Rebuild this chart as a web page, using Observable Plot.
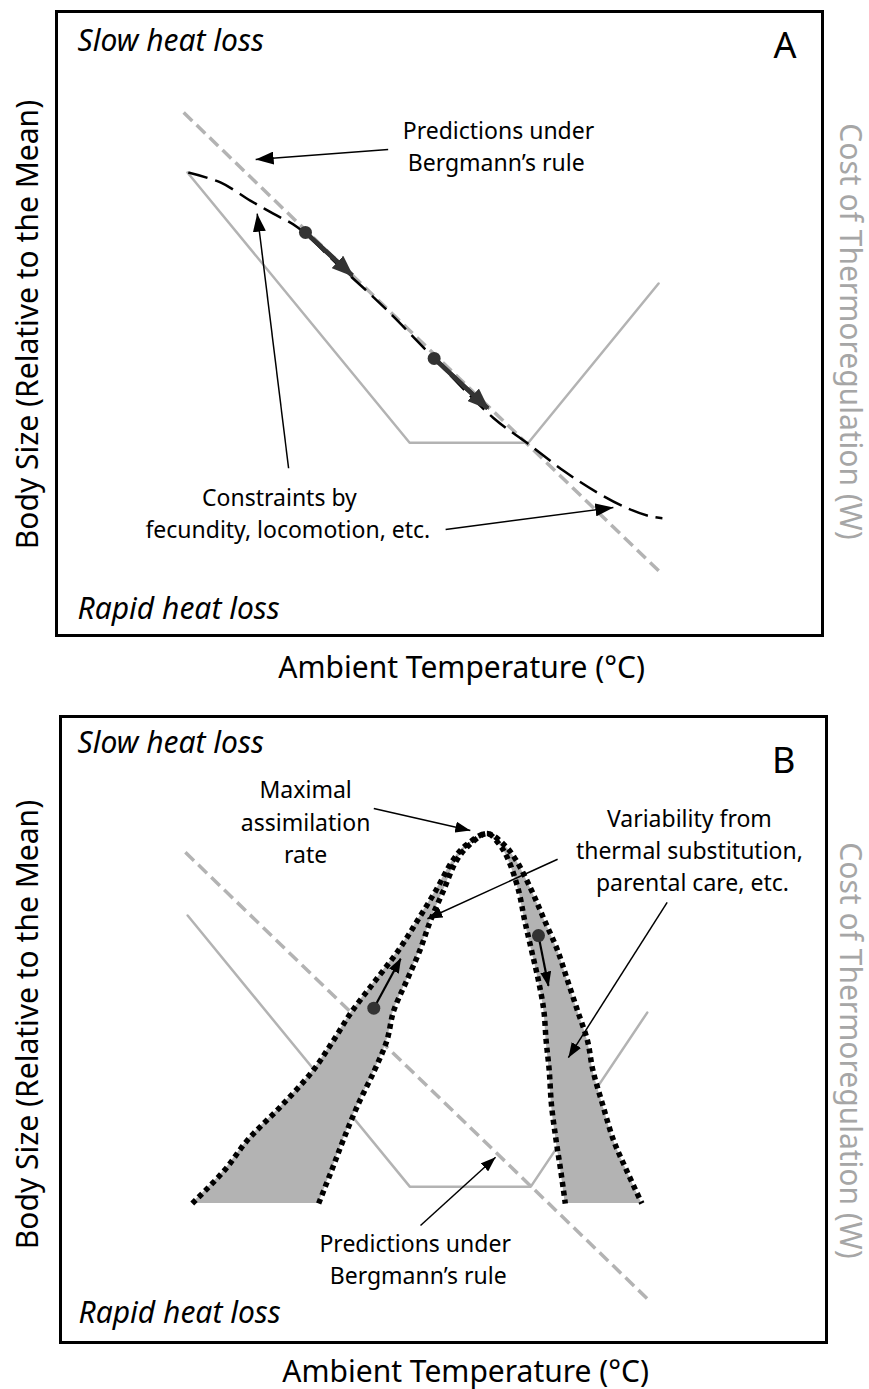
<!DOCTYPE html>
<html>
<head>
<meta charset="utf-8">
<script src="https://cdn.jsdelivr.net/npm/d3@7"></script>
<script src="https://cdn.jsdelivr.net/npm/@observablehq/plot@0.6"></script>
<style>
  body { margin: 0; background: #fff; }
  #chart svg { display: block; }
</style>
</head>
<body>
<div id="chart"></div>
<script>
// ---------- Panel A (temperature and body size in relative units 0–100 across the frame) ----------
const aBergmannTemp = [16.6, 79.1];
const aBergmannSize = [83.8, 9.8];
const aCostTemp = [17.1, 46.1, 61.6, 78.6];
const aCostValue = [74.2, 30.9, 30.9, 56.4];
const aCurveTemp = [17.2, 21.4, 25.3, 28.3, 31.5, 36.4, 41.4, 44.0, 49.3, 57.0, 61.5, 66.2, 70.6, 74.5, 77.5, 79.1];
const aCurveSize = [74.2, 72.6, 69.7, 67.6, 65.4, 59.8, 54.2, 51.1, 44.4, 34.9, 30.8, 26.4, 22.9, 20.4, 19.1, 18.8];
const aMoveFromTemp = [32.5, 49.3];
const aMoveFromSize = [64.6, 44.4];
const aMoveToTemp = [38.6, 56.3];
const aMoveToSize = [57.7, 36.4];
const aNoteFromTemp = [43.3, 30.3, 50.8];
const aNoteFromSize = [77.9, 26.8, 17.0];
const aNoteToTemp = [26.0, 26.2, 72.7];
const aNoteToSize = [76.3, 67.6, 20.5];
const aNoteText = ["Predictions under", "Bergmann’s rule", "Constraints by", "fecundity, locomotion, etc."];
const aNoteTextTemp = [57.7, 57.4, 29.1, 30.2];
const aNoteTextSize = [79.6, 74.5, 20.8, 15.7];

// ---------- Panel B ----------
const bBergmannTemp = [16.3, 76.6];
const bBergmannSize = [78.3, 7.0];
const bCostTemp = [16.6, 45.6, 61.4, 76.6];
const bCostValue = [68.2, 24.9, 24.9, 52.7];
const bBandSize = [22.2, 27.5, 32.3, 37.9, 43.5, 48.2, 53.0, 57.8, 62.6, 67.4, 72.2, 77.0, 79.4, 81.3];
const bOuterLeft = [17.2, 21.4, 24.4, 28.9, 33.0, 35.6, 38.1, 41.1, 44.1, 46.6, 49.0, 51.2, 52.9, 55.7];
const bInnerLeft = [33.7, 35.4, 36.9, 38.8, 41.0, 42.6, 43.5, 45.2, 46.9, 48.3, 50.0, 51.7, 53.3, 55.7];
const bInnerRight = [65.9, 65.3, 64.7, 64.1, 63.8, 63.4, 63.1, 62.4, 61.5, 60.6, 59.8, 58.5, 57.4, 55.7];
const bOuterRight = [75.9, 73.9, 72.2, 70.8, 69.5, 68.8, 67.5, 66.2, 64.9, 63.2, 61.5, 59.5, 58.0, 55.7];
const bMoveFromTemp = [40.9, 62.4];
const bMoveFromSize = [53.4, 65.0];
const bMoveToTemp = [44.4, 63.7];
const bMoveToSize = [61.3, 57.0];
const bNoteFromTemp = [40.9, 64.9, 79.2, 47.0];
const bNoteFromSize = [85.3, 77.2, 70.3, 18.7];
const bNoteToTemp = [53.5, 47.9, 66.3, 56.8];
const bNoteToSize = [81.8, 67.7, 45.5, 29.6];
const bNoteText = ["Maximal", "assimilation", "rate", "Variability from", "thermal substitution,", "parental care, etc.", "Predictions under", "Bergmann’s rule"];
const bNoteTextTemp = [32.0, 32.0, 32.0, 82.1, 82.1, 82.5, 46.3, 46.7];
const bNoteTextSize = [87.0, 81.7, 76.6, 82.3, 77.3, 72.1, 14.4, 9.4];

// ---------- shared labels ----------
const xLabel = "Ambient Temperature (°C)";
const yLabel = "Body Size (Relative to the Mean)";
const y2Label = "Cost of Thermoregulation (W)";
const topLabel = "Slow heat loss";
const bottomLabel = "Rapid heat loss";

// ---------- helpers ----------
const pts = (xs, ys) => xs.map((x, i) => ({x, y: ys[i]}));
const segs = (x1s, y1s, x2s, y2s) => x1s.map((x1, i) => ({x1, y1: y1s[i], x2: x2s[i], y2: y2s[i]}));
const shafts = (x1s, y1s, x2s, y2s) => x1s.flatMap((x1, i) => [{k: i, x: x1, y: y1s[i]}, {k: i, x: x2s[i], y: y2s[i]}]);
const labels = (texts, xs, ys) => texts.map((text, i) => ({text, x: xs[i], y: ys[i]}));

const FONT = "'Noto Sans', 'Open Sans', sans-serif";
const GREY = "#b3b3b3";
const AXISGREY = "#a6a6a6";

function addArrowheads(svg, specs) {
  const ns = "http://www.w3.org/2000/svg";
  const defs = document.createElementNS(ns, "defs");
  svg.insertBefore(defs, svg.firstChild);
  const groups = svg.querySelectorAll('g[aria-label="link"]');
  specs.forEach((s, k) => {
    const m = document.createElementNS(ns, "marker");
    m.setAttribute("id", s.id);
    m.setAttribute("viewBox", `0 0 ${s.len} ${s.wid}`);
    m.setAttribute("refX", s.len - (s.back || 0));
    m.setAttribute("refY", s.wid / 2);
    m.setAttribute("markerWidth", s.len);
    m.setAttribute("markerHeight", s.wid);
    m.setAttribute("markerUnits", "userSpaceOnUse");
    m.setAttribute("orient", "auto");
    const p = document.createElementNS(ns, "path");
    p.setAttribute("d", `M0,0L${s.len},${s.wid / 2}L0,${s.wid}Z`);
    p.setAttribute("fill", s.color);
    m.appendChild(p);
    defs.appendChild(m);
    const g = groups[k];
    if (g) g.querySelectorAll("path").forEach(el => el.setAttribute("marker-end", `url(#${s.id})`));
  });
}

function panel({height, margins, marks}) {
  return Plot.plot({
    width: 869,
    height,
    ...margins,
    x: {domain: [0, 100], axis: null},
    y: {domain: [0, 100], axis: null},
    style: {fontFamily: FONT, background: "white", overflow: "visible", color: "black"},
    marks
  });
}

function frameLabels(o) {
  return [
    Plot.text([topLabel], {text: d => d, frameAnchor: "top-left", dx: o.topDx, dy: o.topDy, lineAnchor: "bottom", textAnchor: "start", fontSize: 30, fontStyle: "italic", fill: "black"}),
    Plot.text([bottomLabel], {text: d => d, frameAnchor: "bottom-left", dx: o.botDx, dy: o.botDy, lineAnchor: "bottom", textAnchor: "start", fontSize: 30, fontStyle: "italic", fill: "black"}),
    Plot.text([o.letter], {text: d => d, frameAnchor: "top-right", dx: o.letDx, dy: o.letDy, lineAnchor: "bottom", textAnchor: "end", fontSize: 36, fill: "black"}),
    Plot.text([yLabel], {text: d => d, frameAnchor: "left", rotate: -90, dx: o.yDx, dy: o.yDy, lineAnchor: "bottom", textAnchor: "middle", fontSize: 30, fill: "black"}),
    Plot.text([y2Label], {text: d => d, frameAnchor: "right", rotate: 90, dx: o.y2Dx, dy: o.y2Dy, lineAnchor: "bottom", textAnchor: "middle", fontSize: 30, fill: AXISGREY}),
    Plot.text([xLabel], {x: () => o.xLabelTemp, text: d => d, frameAnchor: "bottom", dy: o.xDy, lineAnchor: "bottom", textAnchor: "middle", fontSize: 30, fill: "black"})
  ];
}

// ---------- Panel A ----------
const plotA = panel({
  height: 695,
  margins: {marginLeft: 56, marginRight: 47, marginTop: 11, marginBottom: 60},
  marks: [
    Plot.line(pts(aBergmannTemp, aBergmannSize), {x: "x", y: "y", stroke: GREY, strokeWidth: 3.5, strokeDasharray: "12,6", strokeLinecap: "butt"}),
    Plot.line(pts(aCostTemp, aCostValue), {x: "x", y: "y", stroke: GREY, strokeWidth: 2.5, strokeLinejoin: "miter"}),
    Plot.line(pts(aCurveTemp, aCurveSize), {x: "x", y: "y", curve: "catmull-rom", stroke: "black", strokeWidth: 2.5, strokeDasharray: "20,8", strokeLinecap: "butt"}),
    Plot.link(segs(aNoteFromTemp, aNoteFromSize, aNoteToTemp, aNoteToSize), {x1: "x1", y1: "y1", x2: "x2", y2: "y2", stroke: "black", strokeWidth: 1.5}),
    Plot.link(segs(aMoveFromTemp, aMoveFromSize, aMoveToTemp, aMoveToSize), {x1: "x1", y1: "y1", x2: "x2", y2: "y2", stroke: "#333", strokeWidth: 4.5}),
    Plot.line(shafts(aMoveFromTemp, aMoveFromSize, aMoveToTemp, aMoveToSize), {x: "x", y: "y", z: "k", stroke: "#333", strokeWidth: 4.5, strokeLinecap: "butt"}),
    Plot.dot(pts(aMoveFromTemp, aMoveFromSize), {x: "x", y: "y", r: 6.5, fill: "#333", stroke: null}),
    Plot.text(labels(aNoteText, aNoteTextTemp, aNoteTextSize), {x: "x", y: "y", text: "text", fontSize: 23, lineAnchor: "bottom", textAnchor: "middle", fill: "black"}),
    ...frameLabels({letter: "A", topDx: 21, topDy: 39, botDx: 21, botDy: -17, letDx: -26, letDy: 46, yDx: -19, yDy: 1, y2Dx: 17, y2Dy: 8, xLabelTemp: 52.9, xDy: 42}),
    Plot.frame({stroke: "black", strokeWidth: 3})
  ]
});

// ---------- Panel B ----------
const bandLeft = bBandSize.map((y, i) => ({y, x1: bOuterLeft[i], x2: bInnerLeft[i]}));
const bandRight = bBandSize.map((y, i) => ({y, x1: bInnerRight[i], x2: bOuterRight[i]}));
const outerCurve = [...pts(bOuterLeft, bBandSize), ...pts(bOuterRight, bBandSize).reverse().slice(1)];
const innerCurve = [...pts(bInnerLeft, bBandSize), ...pts(bInnerRight, bBandSize).reverse().slice(1)];

const plotB = panel({
  height: 694,
  margins: {marginLeft: 60, marginRight: 43, marginTop: 21, marginBottom: 47},
  marks: [
    Plot.line(pts(bBergmannTemp, bBergmannSize), {x: "x", y: "y", stroke: GREY, strokeWidth: 3.5, strokeDasharray: "12,6", strokeLinecap: "butt"}),
    Plot.line(pts(bCostTemp, bCostValue), {x: "x", y: "y", stroke: GREY, strokeWidth: 2.5, strokeLinejoin: "miter"}),
    Plot.areaX(bandLeft, {y: "y", x1: "x1", x2: "x2", curve: "catmull-rom", fill: GREY}),
    Plot.areaX(bandRight, {y: "y", x1: "x1", x2: "x2", curve: "catmull-rom", fill: GREY}),
    Plot.line(outerCurve, {x: "x", y: "y", curve: "catmull-rom", stroke: "black", strokeWidth: 5.5, strokeDasharray: "5,4", strokeLinecap: "butt"}),
    Plot.line(innerCurve, {x: "x", y: "y", curve: "catmull-rom", stroke: "black", strokeWidth: 5.5, strokeDasharray: "5,4", strokeLinecap: "butt"}),
    Plot.link(segs(bNoteFromTemp, bNoteFromSize, bNoteToTemp, bNoteToSize), {x1: "x1", y1: "y1", x2: "x2", y2: "y2", stroke: "black", strokeWidth: 1.5}),
    Plot.link(segs(bMoveFromTemp, bMoveFromSize, bMoveToTemp, bMoveToSize), {x1: "x1", y1: "y1", x2: "x2", y2: "y2", stroke: "black", strokeWidth: 2.2}),
    Plot.dot(pts(bMoveFromTemp, bMoveFromSize), {x: "x", y: "y", r: 6.5, fill: "#333", stroke: null}),
    Plot.text(labels(bNoteText, bNoteTextTemp, bNoteTextSize), {x: "x", y: "y", text: "text", fontSize: 23, lineAnchor: "bottom", textAnchor: "middle", fill: "black"}),
    ...frameLabels({letter: "B", topDx: 17, topDy: 36, botDx: 18, botDy: -20, letDx: -31, letDy: 56, yDx: -23, yDy: -5, y2Dx: 13, y2Dy: 21, xLabelTemp: 52.9, xDy: 39}),
    Plot.frame({stroke: "black", strokeWidth: 3})
  ]
});

addArrowheads(plotA, [
  {id: "ahA-note", len: 18, wid: 13, color: "black", back: 0},
  {id: "ahA-move", len: 22, wid: 17, color: "#333", back: 2}
]);
addArrowheads(plotB, [
  {id: "ahB-note", len: 15, wid: 11, color: "black", back: 0},
  {id: "ahB-move", len: 15, wid: 11, color: "black", back: 1}
]);

document.getElementById("chart").append(plotA, plotB);
</script>
</body>
</html>
